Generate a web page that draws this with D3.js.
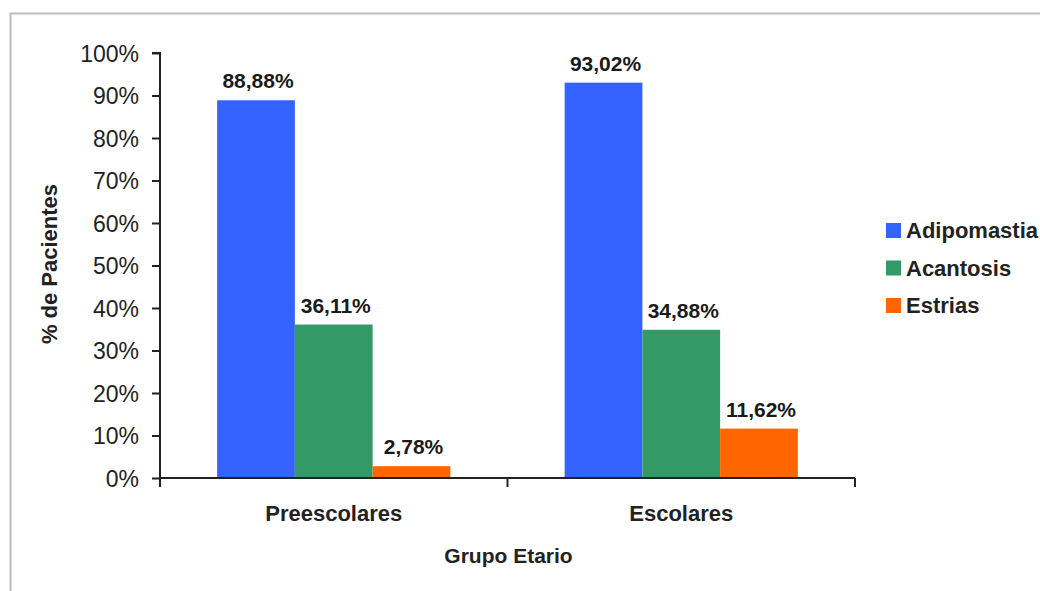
<!DOCTYPE html>
<html>
<head>
<meta charset="utf-8">
<script src="https://cdn.jsdelivr.net/npm/d3@7/dist/d3.min.js"></script>
<style>
  html, body { margin: 0; padding: 0; background: #fff; }
  svg { display: block; font-family: "Liberation Sans", Arial, sans-serif; }
</style>
</head>
<body>
<svg id="chart" width="1040" height="591"></svg>
<script>
// Age groups and findings (percent of patients)
const categories = ["Preescolares", "Escolares"];
const series = ["Adipomastia", "Acantosis", "Estrias"];
const adipomastia = [88.88, 93.02];
const acantosis = [36.11, 34.88];
const estrias = [2.78, 11.62];
const yTicks = [0, 10, 20, 30, 40, 50, 60, 70, 80, 90, 100];
const colors = ["#3362FF", "#339966", "#FF6600"];

const valuesBySeries = [adipomastia, acantosis, estrias];
const rows = categories.map((c, i) => ({
  category: c,
  values: series.map((s, j) => ({ key: s, value: valuesBySeries[j][i], color: colors[j] }))
}));

const svg = d3.select("#chart");

// outer frame
svg.append("rect")
  .attr("x", 10.5).attr("y", 13.5)
  .attr("width", 1100).attr("height", 700)
  .attr("fill", "none").attr("stroke", "#bdbdbd").attr("stroke-width", 2);

const plot = { left: 160, right: 855, top: 53, bottom: 478 };

const x0 = d3.scaleBand().domain(categories)
  .range([plot.left, plot.right]).paddingInner(0).paddingOuter(0);
const x1 = d3.scaleBand().domain(series)
  .range([0, x0.bandwidth()]).paddingInner(0).paddingOuter(0.735);
const y = d3.scaleLinear().domain([0, 100]).range([plot.bottom, plot.top]);

// bars
const groups = svg.append("g").selectAll("g").data(rows).join("g")
  .attr("transform", d => `translate(${x0(d.category)},0)`);

groups.selectAll("rect").data(d => d.values).join("rect")
  .attr("x", d => x1(d.key))
  .attr("y", d => y(d.value))
  .attr("width", x1.bandwidth())
  .attr("height", d => y(0) - y(d.value))
  .attr("fill", d => d.color);

// value labels
const fmt = v => d3.format(".2f")(v).replace(".", ",") + "%";
groups.selectAll("text").data(d => d.values).join("text")
  .attr("x", d => x1(d.key) + x1.bandwidth() / 2 + 2)
  .attr("y", d => y(d.value) - 12)
  .attr("text-anchor", "middle")
  .attr("font-size", 21).attr("font-weight", "bold").attr("fill", "#1a1a1a")
  .text(d => fmt(d.value));

// y axis
const yAxis = d3.axisLeft(y).tickValues(yTicks)
  .tickFormat(d => d + "%").tickSize(8).tickPadding(13);
const gy = svg.append("g").attr("transform", `translate(${plot.left},0)`).call(yAxis);
gy.selectAll(".tick line").attr("stroke", "#222").attr("stroke-width", 2);
gy.selectAll(".tick text").attr("font-size", 23).attr("fill", "#222")
  .attr("font-family", "Liberation Sans, Arial, sans-serif").attr("dy", "0.36em");
gy.select(".domain").attr("stroke", "#222").attr("stroke-width", 2)
  .attr("d", `M-8,${plot.top}H0V${plot.bottom}`);

// x axis
const gx = svg.append("g").attr("transform", `translate(0,${plot.bottom})`);
gx.append("path")
  .attr("d", `M${plot.left},0H${plot.right}`)
  .attr("stroke", "#222").attr("stroke-width", 2).attr("fill", "none");
const xTickPos = [plot.left, ...categories.map(c => x0(c) + x0.bandwidth())];
gx.selectAll("line.xt").data(xTickPos).join("line")
  .attr("class", "xt")
  .attr("x1", d => d).attr("x2", d => d)
  .attr("y1", 0).attr("y2", 9)
  .attr("stroke", "#222").attr("stroke-width", 2);
gx.selectAll("text.xl").data(categories).join("text")
  .attr("class", "xl")
  .attr("x", d => x0(d) + x0.bandwidth() / 2)
  .attr("y", 43)
  .attr("text-anchor", "middle")
  .attr("font-size", 22).attr("font-weight", "bold").attr("fill", "#222")
  .text(d => d);

// axis titles
svg.append("text")
  .attr("x", (plot.left + plot.right) / 2 + 1).attr("y", 563)
  .attr("text-anchor", "middle")
  .attr("font-size", 21).attr("font-weight", "bold").attr("fill", "#222")
  .text("Grupo Etario");

svg.append("text")
  .attr("transform", "translate(57,264) rotate(-90)")
  .attr("text-anchor", "middle")
  .attr("font-size", 22).attr("font-weight", "bold").attr("fill", "#222")
  .text("% de Pacientes");

// legend
const legend = svg.append("g").attr("transform", "translate(886,223)");
const li = legend.selectAll("g").data(series).join("g")
  .attr("transform", (d, i) => `translate(0,${i * 37.5})`);
li.append("rect").attr("width", 15).attr("height", 15)
  .attr("fill", (d, i) => colors[i]);
li.append("text").attr("x", 20).attr("y", 15)
  .attr("font-size", 22).attr("font-weight", "bold").attr("fill", "#222")
  .text(d => d);
</script>
</body>
</html>
